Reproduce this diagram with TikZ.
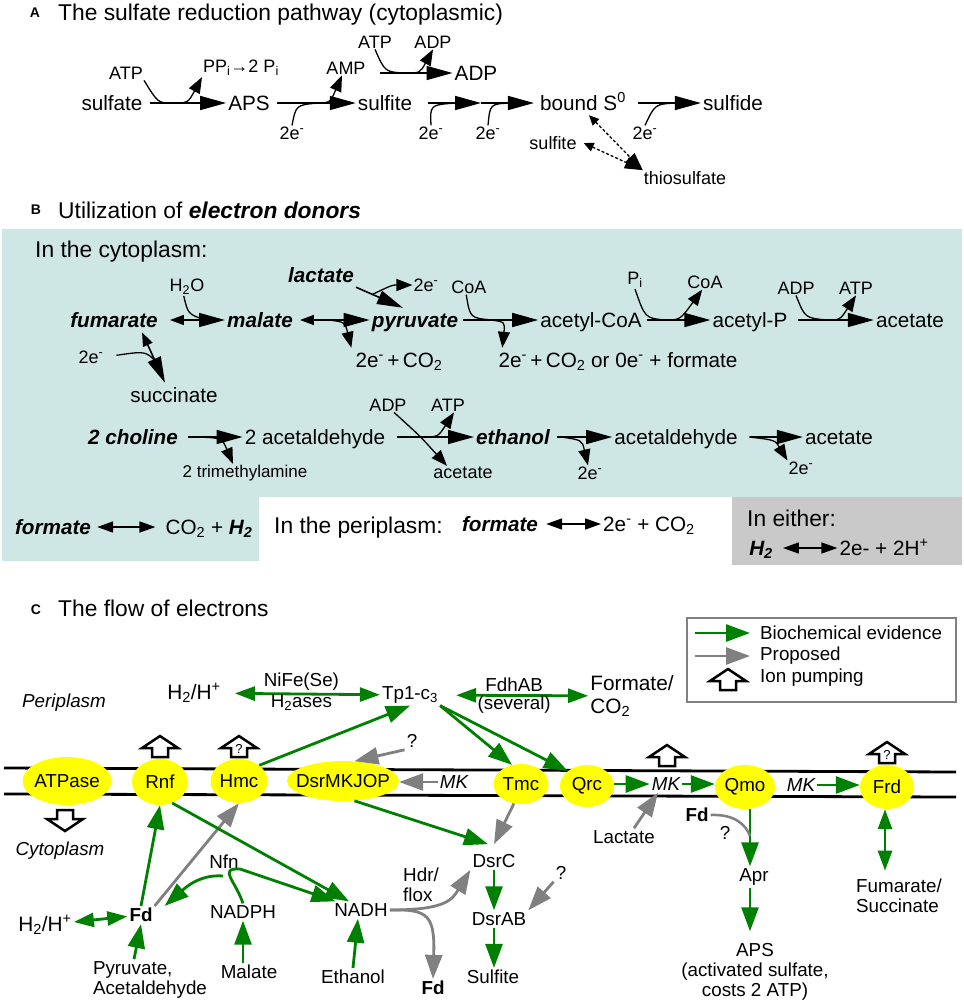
\documentclass[tikz,border=0pt]{standalone}
\usepackage{fontspec}
\setmainfont{Liberation Sans}
\usepackage{xcolor}
\usepackage{tikz}
\usetikzlibrary{calc, positioning, arrows.meta, shapes.geometric}
\definecolor{cyto}{RGB}{207,231,228}
\definecolor{eitherbg}{RGB}{201,201,201}
\definecolor{evid}{RGB}{0,128,0}
\definecolor{propgray}{RGB}{128,128,128}
\definecolor{enzfill}{RGB}{255,255,0}
\tikzset{
    panel/.style={inner sep=0pt, font=\fontsize{14}{16}\selectfont\bfseries},
    heading/.style={anchor=west, inner sep=0pt, text height=17pt, text depth=5pt, font=\fontsize{22.8}{26}\selectfont},
    mol/.style={inner sep=2pt, text height=17pt, text depth=3pt, font=\fontsize{20.7}{24}\selectfont},
    molb/.style={mol, font=\fontsize{20.7}{24}\selectfont\bfseries\itshape},
    side/.style={inner sep=1pt, font=\fontsize{18}{21}\selectfont},
    rxn/.style={line width=1.6pt, -{Triangle[length=26pt, width=14pt]}},
    rxnboth/.style={line width=1.6pt, {Triangle[length=14pt, width=10pt]}-{Triangle[length=26pt, width=14pt]}},
    eq/.style={line width=1.6pt, {Triangle[length=16pt, width=11pt]}-{Triangle[length=16pt, width=11pt]}},
    co/.style={line width=1.3pt, -{Triangle[length=16pt, width=12pt]}},
    co0/.style={line width=1.3pt},
    sidedash/.style={line width=1.3pt, dash pattern=on 3pt off 2pt, {Triangle[length=10pt, width=9pt]}-{Triangle[length=18pt, width=12pt]}},
    enzyme/.style={ellipse, fill=enzfill, inner sep=0pt},
    lab/.style={inner sep=2pt, align=center, font=\fontsize{18.8}{20.5}\selectfont},
    labit/.style={lab, font=\fontsize{18.8}{20.5}\selectfont\itshape},
    biglab/.style={inner sep=2pt, align=left, font=\fontsize{20.8}{23.5}\selectfont},
    evidence/.style={draw=evid, line width=2.8pt, -{Triangle[length=24pt, width=17pt]}},
    proposed/.style={draw=propgray, line width=2.8pt, -{Triangle[length=24pt, width=17pt]}},
    evboth/.style={evidence, {Triangle[length=20pt, width=14pt]}-{Triangle[length=20pt, width=14pt]}},
    pump/.pic={\draw[line width=2.5pt, fill=white, line join=miter] (-8,0) -- (-8,-9) -- (-18,-9) -- (0,-21) -- (18,-9) -- (8,-9) -- (8,0) -- cycle;}
}

\begin{document}
\begin{tikzpicture}[x=1pt, y=-1pt]
    \useasboundingbox (0,0) rectangle (964,1005);

    % A: sulfate reduction
    \node[panel] (pA) at (35,13) {A};
    \node[heading] (tA) at (58,14.5) {The sulfate reduction pathway (cytoplasmic)};
    \node[mol] (sulfate) at (112,103) {sulfate};
    \node[mol] (aps) at (249,103) {APS};
    \node[mol] (sulfite) at (385,103) {sulfite};
    \node[mol] (boundS) at (583,103) {bound S\textsuperscript{0}};
    \node[mol] (sulfide) at (733,103) {sulfide};
    \node[mol] (adp) at (476,73) {ADP};
    \node[side] (atp1) at (126,73) {ATP};
    \node[side] (ppi) at (241,68) {PP\textsubscript{i}→2 P\textsubscript{i}};
    \node[side] (amp) at (346,68) {AMP};
    \node[side] (atp2) at (375,42) {ATP};
    \node[side] (adp2) at (433,42) {ADP};
    \node[side] (e1) at (292,133) {2e\textsuperscript{-}};
    \node[side] (e2) at (431,133) {2e\textsuperscript{-}};
    \node[side] (e3) at (488,133) {2e\textsuperscript{-}};
    \node[side] (e4) at (645,133) {2e\textsuperscript{-}};
    \node[side] (sulfite2) at (553,143) {sulfite};
    \node[side] (thio) at (685,178) {thiosulfate};
    \coordinate (adpstart) at (380,73);
    \coordinate (sred) at (481,103);

    \draw[rxn, shorten <=5pt] (sulfate) -- (aps);
    \draw[co] (atp1.south east) .. controls (158,103) .. (172,103) .. controls (188,103) .. (ppi.south west);
    \draw[rxn, shorten <=5pt] (aps) -- (sulfite);
    \draw[co] (e1.north) .. controls (296,105) .. (318,103) .. controls (330,103) .. ([xshift=-4pt]amp.south);
    \draw[rxn] (adpstart) -- (adp);
    \draw[co] (atp2.south) .. controls (385,72) .. (405,73) .. controls (420,73) .. (adp2.south);
    \draw[rxn, shorten <=14pt] (sulfite) -- (sred);
    \draw[rxn, shorten >=4pt] (sred) -- (boundS);
    \draw[co0] (e2.north) .. controls (430,105) .. (455,103);
    \draw[co0] (e3.north) .. controls (490,104) .. (510,103);
    \draw[rxn, shorten <=10pt] (boundS) -- (sulfide);
    \draw[co0] (e4.north) .. controls (655,104) .. (677,103);
    \draw[sidedash] ([xshift=6pt]boundS.south) -- (thio.north west);
    \draw[sidedash] ([xshift=6pt]sulfite2.east) -- (thio.north west);

    % B: electron donors
    \fill[cyto] (2,229) -- (962,229) -- (962,497) -- (259,497) -- (259,561) -- (2,561) -- cycle;
    \fill[eitherbg] (732,497) rectangle (962,565);
    \node[panel] (pB) at (36,210) {B};
    \node[heading] (tB) at (58,212) {Utilization of \textbf{\textit{electron donors}}};
    \node[heading] (cytoT) at (35,251) {In the cytoplasm:};

    \node[molb] (fum) at (114,320) {fumarate};
    \node[molb] (mal) at (260,320) {malate};
    \node[molb] (pyr) at (415,320) {pyruvate};
    \node[mol] (acoa) at (591,320) {acetyl-CoA};
    \node[mol] (ap) at (750,320) {acetyl-P};
    \node[mol] (ace1) at (910,320) {acetate};
    \node[side] (h2o) at (187,287) {H\textsubscript{2}O};
    \node[side] (eB1) at (91,357) {2e\textsuperscript{-}};
    \node[mol] (succ) at (174,395) {succinate};
    \node[molb] (lac) at (321,275) {lactate};
    \node[side] (eB2) at (426,285) {2e\textsuperscript{-}};
    \node[mol] (eco2a) at (399,360) {2e\textsuperscript{-}\,+\,CO\textsubscript{2}};
    \node[side] (coa1) at (469,287) {CoA};
    \node[mol] (eco2b) at (618,360) {2e\textsuperscript{-}\,+\,CO\textsubscript{2} or 0e\textsuperscript{-} + formate};
    \node[side] (pi) at (635,280) {P\textsubscript{i}};
    \node[side] (coa2) at (705,282) {CoA};
    \node[side] (adp1) at (796,288) {ADP};
    \node[side] (atp3) at (856,288) {ATP};

    \draw[rxnboth, shorten <=10pt] (fum) -- (mal);
    \draw[co0] (h2o.250) .. controls (188,314) .. (205,320);
    \draw[rxnboth] ([xshift=28pt]fum.south) -- ([xshift=-9pt]succ.north);
    \draw[co0, shorten <=12pt] (eB1.east) .. controls (146,351) .. (157,363);
    \draw[rxnboth, shorten <=5pt] (mal) -- (pyr);
    \draw[co] ($(mal.east)!.45!(pyr.west)$) .. controls (345,322) .. ([xshift=-2pt]eco2a.north west);
    \draw[rxn] (lac.south east) -- ([xshift=-12pt]pyr.north);
    \draw[co] ($(lac.south east)!.35!([xshift=-12pt]pyr.north)$) .. controls (392,285) .. (eB2.west);
    \draw[rxn, shorten <=3pt] (pyr) -- (acoa);
    \draw[co0] (coa1.250) .. controls (470,318) .. (492,320);
    \draw[co] ($(pyr.east)!.4!(acoa.west)$) .. controls (505,322) .. ([xshift=6pt]eco2b.north west);
    \draw[rxn, shorten <=3pt] (acoa) -- (ap);
    \draw[co] (pi.south) .. controls (645,318) .. (665,320) .. controls (680,320) .. (coa2.250);
    \draw[rxn, shorten <=8pt] (ap) -- (ace1);
    \draw[co] (adp1.south) .. controls (805,318) .. (827,320) .. controls (840,320) .. (atp3.south);

    \node[molb] (chol) at (133,437) {2 choline};
    \node[mol] (acald1) at (315,437) {2 acetaldehyde};
    \node[molb] (etoh) at (513,437) {ethanol};
    \node[mol] (acald2) at (676,437) {acetaldehyde};
    \node[mol] (ace2) at (839,437) {acetate};
    \node[side, font=\fontsize{17}{20}\selectfont] (tma) at (245,473) {2 trimethylamine};
    \node[side] (adp3) at (388,405) {ADP};
    \node[side] (atp4) at (448,405) {ATP};
    \node[side] (ace3) at (463,473) {acetate};
    \node[side] (eB3) at (590,473) {2e\textsuperscript{-}};
    \node[side] (eB4) at (801,468) {2e\textsuperscript{-}};

    \draw[rxn, shorten <=8pt] (chol) -- (acald1);
    \draw[co] ($(chol.east)!.3!(acald1.west)$) .. controls (222,438) .. ([xshift=-12pt]tma.north);
    \draw[rxn, shorten <=10pt] (acald1) -- (etoh);
    \draw[co] ([xshift=6pt]adp3.south) .. controls (420,436) .. ([xshift=-16pt]ace3.north);
    \draw[co] ($(acald1.east)!.4!(etoh.west)$) .. controls (438,437) .. ([xshift=6pt]atp4.south);
    \draw[rxn, shorten <=5pt] (etoh) -- (acald2);
    \draw[co] ($(etoh.east)!.15!(acald2.west)$) .. controls (582,440) .. ([xshift=-2pt]eB3.north);
    \draw[rxn, shorten <=10pt] (acald2) -- (ace2);
    \draw[co] ($(acald2.east)!.15!(ace2.west)$) .. controls (775,440) .. (eB4.north west);

    \node[molb] (form1) at (53,527) {formate};
    \node[mol] (co2h2) at (209,527) {CO\textsubscript{2} + \textbf{\textit{H\textsubscript{2}}}};
    \draw[eq, shorten <=4pt, shorten >=8pt] (form1) -- (co2h2);
    \node[heading] (periT) at (274,527) {In the periplasm:};
    \node[molb] (form2) at (500,524) {formate};
    \node[mol] (eco2c) at (649,524) {2e\textsuperscript{-} + CO\textsubscript{2}};
    \draw[eq, shorten <=6pt] (form2) -- (eco2c);
    \node[heading] (eitherT) at (747,520) {In either:};
    \node[molb] (h2b) at (761,548) {H\textsubscript{2}};
    \node[mol] (e2h) at (884,548) {2e- + 2H\textsuperscript{+}};
    \draw[eq, shorten <=8pt] (h2b) -- (e2h);

    % C: electron flow
    \node[panel] (pC) at (36,610) {C};
    \node[heading] (tC) at (58,610.5) {The flow of electrons};

    % legend
    \draw[propgray, line width=2pt] (687,618) rectangle (956,702);
    \node[lab, anchor=west] (lgev) at (758,633) {Biochemical evidence};
    \node[lab, anchor=west] (lgpr) at (758,656) {Proposed};
    \node[lab, anchor=west] (lgpu) at (758,678) {Ion pumping};
    \draw[evidence] ([xshift=-63pt]lgev.west) -- ([xshift=-8pt]lgev.west);
    \draw[proposed] ([xshift=-63pt]lgpr.west) -- ([xshift=-8pt]lgpr.west);
    \pic at (728,690) {pump};

    % periplasm side
    \node[labit] (peri) at (64,703) {Periplasm};
    \node[biglab] (h2top) at (194,693) {H\textsubscript{2}/H\textsuperscript{+}};
    \node[lab] (tp1) at (410,695) {Tp1-c\textsubscript{3}};
    \node[biglab] (formco2) at (632,696) {Formate/\\CO\textsubscript{2}};
    \draw[evboth, shorten <=12pt] (h2top) -- node[lab, above=0pt] {NiFe(Se)} node[lab, below=-3pt] {H\textsubscript{2}ases} (tp1);
    \draw[evboth, shorten <=16pt] (tp1) -- node[lab, above=0pt] {FdhAB} node[lab, below=-3pt] {(several)} (formco2);

    % membrane
    \draw[line width=2.8pt] (4,768) -- (956,772);
    \draw[line width=2.8pt] (4,794) -- (956,797);
    \node[enzyme, minimum width=89pt, minimum height=48pt, label={[lab]center:ATPase}] (atpase) at (67,781) {};
    \node[enzyme, minimum width=56pt, minimum height=46pt, label={[lab]center:Rnf}] (rnf) at (160,782) {};
    \node[enzyme, minimum width=57pt, minimum height=44pt, label={[lab]center:Hmc}] (hmc) at (239,781) {};
    \node[enzyme, minimum width=112pt, minimum height=40pt, label={[lab]center:DsrMKJOP}] (dsr) at (343,781) {};
    \node[enzyme, minimum width=55pt, minimum height=40pt, label={[lab]center:Tmc}] (tmc) at (521,784) {};
    \node[enzyme, minimum width=54pt, minimum height=42pt, label={[lab]center:Qrc}] (qrc) at (587,786) {};
    \node[enzyme, minimum width=60pt, minimum height=44pt, label={[lab]center:Qmo}] (qmo) at (745,787) {};
    \node[enzyme, minimum width=54pt, minimum height=44pt, label={[lab]center:Frd}] (frd) at (887,787) {};
    \node[labit] (mk1) at (454,782) {MK};
    \node[labit] (mk2) at (666,784) {MK};
    \node[labit] (mk3) at (801,785) {MK};

    \draw[proposed] (mk1.west) -- (mk1.west -| dsr.east);
    \draw[evidence] (mk2.west -| qrc.east) -- (mk2.west);
    \draw[evidence] (mk2.east) -- (mk2.east -| qmo.west);
    \draw[evidence] (mk3.east) -- (mk3.east -| frd.west);

    % ion pumping
    \pic at (160,757) {pump};
    \pic at (239,757) {pump};
    \node[lab, font=\fontsize{13}{14}\selectfont] (qhmc) at (239,749) {?};
    \pic at (667,766) {pump};
    \pic at (887,763) {pump};
    \node[lab, font=\fontsize{13}{14}\selectfont] (qfrd) at (887,755) {?};
    \pic[rotate=180] at (65,810) {pump};

    % periplasmic flow
    \draw[evidence] (hmc.north east) -- (tp1.south);
    \draw[evidence] (tp1.south east) -- (tmc.115);
    \draw[evidence] (tp1.south east) -- (qrc.north west);
    \node[lab] (q1) at (412,741) {?};
    \draw[proposed] (q1.south west) -- (dsr.60);

    % cytoplasm side
    \node[labit] (cyt) at (60,851) {Cytoplasm};
    \node[lab] (fd1) at (141,915) {\textbf{Fd}};
    \node[biglab] (h2low) at (45,925) {H\textsubscript{2}/H\textsuperscript{+}};
    \node[lab, align=left] (pyrC) at (150,980) {Pyruvate,\\Acetaldehyde};
    \node[lab] (nfn) at (224,862) {Nfn};
    \node[lab] (nadph) at (243,912) {NADPH};
    \node[lab] (malC) at (249,972) {Malate};
    \node[lab] (nadh) at (361,910) {NADH};
    \node[lab] (etohC) at (353,977) {Ethanol};
    \node[lab, align=left] (hdr) at (421,885) {Hdr/\\flox};
    \node[lab] (fd2) at (433,988) {\textbf{Fd}};
    \node[lab] (dsrc) at (494,861) {DsrC};
    \node[lab] (dsrab) at (499,919) {DsrAB};
    \node[lab] (sulfC) at (493,977) {Sulfite};
    \node[lab] (q2) at (561,873) {?};
    \node[lab] (lacC) at (624,837) {Lactate};
    \node[lab] (fd3) at (697,815) {\textbf{Fd}};
    \node[lab] (q3) at (725,833) {?};
    \node[lab] (apr) at (754,877) {Apr};
    \node[lab, font=\fontsize{18.8}{20}\selectfont] (apsC) at (755,972) {APS\\(activated sulfate,\\costs 2 ATP)};
    \node[lab, align=left] (fumC) at (899,896) {Fumarate/\\Succinate};
    \coordinate (nfnhub) at (223,876);
    \coordinate (aprjoin) at (750,836);

    \draw[evboth] (h2low) -- (fd1);
    \draw[evidence] (fd1.north) -- (rnf.south);
    \draw[proposed] (fd1.north east) -- (hmc.south);
    \draw[evidence] ([xshift=-16pt]pyrC.north) -- (fd1.south);
    \draw[evidence] (nadph.south |- malC.north) -- (nadph.south);
    \draw[evidence] (nadph.north) .. controls (235,880) and (218,868) .. (240,869) -- (nadh);
    \draw[evidence] (nfnhub) .. controls (200,874) and (185,888) .. ([xshift=10pt]fd1.north east);
    \draw[evidence] (rnf.-60) -- ([xshift=-12pt]nadh.north);
    \draw[evidence] (etohC.north) -- ([xshift=-3pt]nadh.south);
    \draw[evidence] (dsr.-60) -- ([xshift=-6pt, yshift=8pt]dsrc.north);
    \draw[proposed] (tmc.-110) -- ([yshift=8pt]dsrc.north);
    \draw[evidence] (dsrc.south) -- (dsrc.south |- dsrab.north);
    \draw[evidence] (dsrab.south -| dsrc.south) -- (sulfC.north -| dsrc.south);
    \draw[proposed] (q2.south west) -- (dsrab.north east);
    \draw[proposed] (nadh.east) .. controls (445,910) and (452,900) .. (dsrc.south west);
    \draw[proposed] (nadh.east) .. controls (428,909) and (435,915) .. (fd2.north);
    \draw[proposed] ([xshift=10pt]lacC.north) -- ([xshift=-8pt]mk2.south);
    \draw[evidence] ([xshift=5pt]qmo.south) -- ([xshift=-4pt]apr.north);
    \draw[propgray, line width=2.5pt] (fd3.east) .. controls (735,814) and (746,825) .. (aprjoin);
    \draw[evidence] ([xshift=-4pt]apr.south) -- ([xshift=-5pt, yshift=10pt]apsC.north);
    \draw[evboth] ([xshift=-2pt]frd.south) -- ([xshift=-2pt, yshift=6pt]fumC.north -| frd.south);
\end{tikzpicture}
\end{document}
